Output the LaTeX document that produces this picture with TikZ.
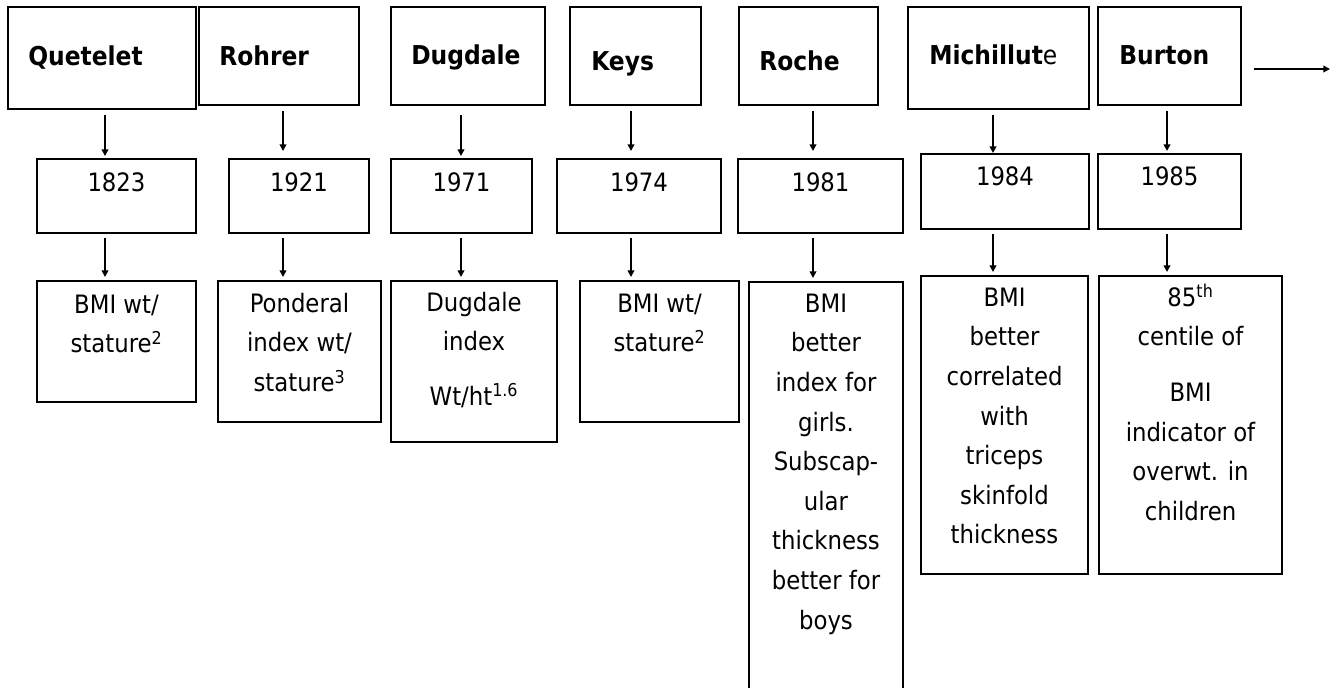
\documentclass[tikz,border=0pt]{standalone}
\usepackage{fontspec}
\setmainfont{DejaVu Sans Condensed}[BoldFont={DejaVu Sans Condensed Bold}]
\usetikzlibrary{arrows.meta,calc,fit}
\newcommand{\strt}{\rule{0pt}{19.5pt}}
\begin{document}
\begin{tikzpicture}[x=0.75pt,y=-0.75pt,
  box/.style={draw, line width=1.5pt, rectangle, inner sep=0pt},
  nm/.style={anchor=base west, inner sep=0pt, font=\fontsize{19.5pt}{24pt}\selectfont\bfseries},
  yr/.style={anchor=base, inner sep=0pt, font=\fontsize{19pt}{24pt}\selectfont},
  bt/.style={anchor=north, align=center, inner sep=0pt, font=\fontsize{19pt}{29.7pt}\selectfont},
  arr/.style={line width=1.2pt, -{Triangle[length=5pt,width=5pt]}}]
\clip (0,0) rectangle (1339,687);
% names
\node[box, fit={(8,7)(196,109)}] (q) {};
\node[box, fit={(199,7)(359,105)}] (r) {};
\node[box, fit={(391,7)(545,105)}] (d) {};
\node[box, fit={(570,7)(701,105)}] (k) {};
\node[box, fit={(739,7)(878,105)}] (ro) {};
\node[box, fit={(908,7)(1089,109)}] (m) {};
\node[box, fit={(1098,7)(1241,105)}] (b) {};
\node[nm] (qt) at ($(q.north west)+(21,59)$) {Quetelet};
\node[nm] (rt) at ($(r.north west)+(21,59)$) {Rohrer};
\node[nm] (dt) at ($(d.north west)+(21,58)$) {Dugdale};
\node[nm] (kt) at ($(k.north west)+(22,64)$) {Keys};
\node[nm] (rot) at ($(ro.north west)+(21,64)$) {Roche};
\node[nm] (mt) at ($(m.north west)+(22,58)$) {Michillut\mdseries e};
\node[nm] (bt) at ($(b.north west)+(22,58)$) {Burton};
% years
\node[box, fit={(37,159)(196,233)}] (y1) {};
\node[box, fit={(229,159)(369,233)}] (y2) {};
\node[box, fit={(391,159)(532,233)}] (y3) {};
\node[box, fit={(557,159)(721,233)}] (y4) {};
\node[box, fit={(738,159)(903,233)}] (y5) {};
\node[box, fit={(921,154)(1089,229)}] (y6) {};
\node[box, fit={(1098,154)(1241,229)}] (y7) {};
\node[yr] (y1t) at ($(y1.north)+(0,33)$) {1823};
\node[yr] (y2t) at ($(y2.north)+(0,33)$) {1921};
\node[yr] (y3t) at ($(y3.north)+(0,33)$) {1971};
\node[yr] (y4t) at ($(y4.north)+(0,33)$) {1974};
\node[yr] (y5t) at ($(y5.north)+(0,33)$) {1981};
\node[yr] (y6t) at ($(y6.north)+(0,32)$) {1984};
\node[yr] (y7t) at ($(y7.north)+(0,32)$) {1985};
% findings
\node[box, fit={(37,281)(196,402)}] (f1) {};
\node[box, fit={(218,281)(381,422)}] (f2) {};
\node[box, fit={(391,281)(557,442)}] (f3) {};
\node[box, fit={(580,281)(739,422)}] (f4) {};
\node[box, fit={(749,282)(903,700)}] (f5) {};
\node[box, fit={(921,276)(1088,574)}] (f6) {};
\node[box, fit={(1099,276)(1282,574)}] (f7) {};
\node[bt] (f1t) at ($(f1.north)+(0,7)$) {\strt BMI wt/\\stature\textsuperscript{2}};
\node[bt] (f2t) at ($(f2.north)+(0,6)$) {\strt Ponderal\\index wt/\\stature\textsuperscript{3}};
\node[bt] (f3t) at ($(f3.north)+(0,5)$) {\strt Dugdale\\index\\[11pt]Wt/ht\textsuperscript{1.6}};
\node[bt] (f4t) at ($(f4.north)+(0,6)$) {\strt BMI wt/\\stature\textsuperscript{2}};
\node[bt] (f5t) at ($(f5.north)+(0,5)$) {\strt BMI\\better\\index for\\girls.\\Subscap-\\ular\\thickness\\better for\\boys};
\node[bt] (f6t) at ($(f6.north)+(0,5)$) {\strt BMI\\better\\correlated\\with\\triceps\\skinfold\\thickness};
\node[bt] (f7t) at ($(f7.north)+(0,5)$) {\strt 85\textsuperscript{th}\\centile of\\[12pt]BMI\\indicator of\\overwt. in\\children};
% arrow x positions
\coordinate (x1) at (105,0);
\coordinate (x2) at (283,0);
\coordinate (x3) at (461,0);
\coordinate (x4) at (631,0);
\coordinate (x5) at (813,0);
\coordinate (x6) at (993,0);
\coordinate (x7) at (1167,0);
% name -> year
\draw[arr] ($(q.south -| x1)+(0,5)$) -- ($(y1.north -| x1)+(0,-2)$);
\draw[arr] ($(r.south -| x2)+(0,5)$) -- ($(y2.north -| x2)+(0,-7)$);
\draw[arr] ($(d.south -| x3)+(0,9)$) -- ($(y3.north -| x3)+(0,-2)$);
\draw[arr] ($(k.south -| x4)+(0,5)$) -- ($(y4.north -| x4)+(0,-7)$);
\draw[arr] ($(ro.south -| x5)+(0,5)$) -- ($(y5.north -| x5)+(0,-7)$);
\draw[arr] ($(m.south -| x6)+(0,5)$) -- ($(y6.north -| x6)+(0,0)$);
\draw[arr] ($(b.south -| x7)+(0,5)$) -- ($(y7.north -| x7)+(0,-2)$);
% year -> finding
\draw[arr] ($(y1.south -| x1)+(0,4)$) -- ($(f1.north -| x1)+(0,-3)$);
\draw[arr] ($(y2.south -| x2)+(0,4)$) -- ($(f2.north -| x2)+(0,-3)$);
\draw[arr] ($(y3.south -| x3)+(0,4)$) -- ($(f3.north -| x3)+(0,-3)$);
\draw[arr] ($(y4.south -| x4)+(0,4)$) -- ($(f4.north -| x4)+(0,-3)$);
\draw[arr] ($(y5.south -| x5)+(0,4)$) -- ($(f5.north -| x5)+(0,-3)$);
\draw[arr] ($(y6.south -| x6)+(0,4)$) -- ($(f6.north -| x6)+(0,-3)$);
\draw[arr] ($(y7.south -| x7)+(0,4)$) -- ($(f7.north -| x7)+(0,-3)$);
% continuation arrow
\coordinate (rend) at (1330,69);
\draw[arr] ($(b.east)+(12,13)$) -- (rend);
\end{tikzpicture}
\end{document}
